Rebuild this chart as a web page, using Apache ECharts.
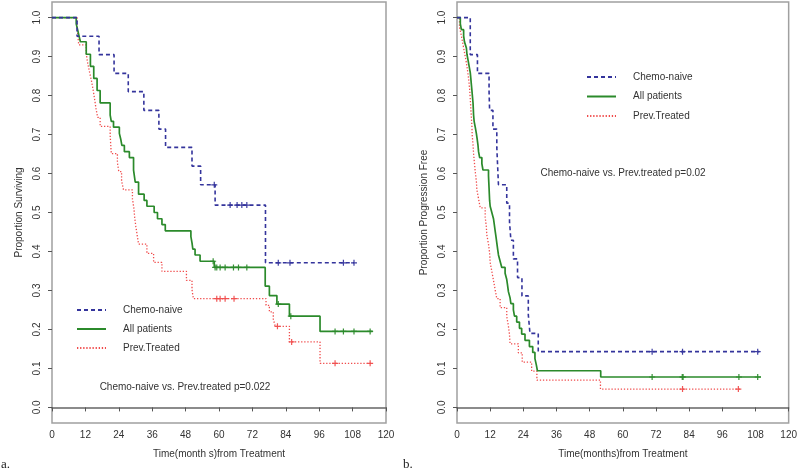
<!DOCTYPE html>
<html><head><meta charset="utf-8">
<script src="https://cdn.jsdelivr.net/npm/echarts@6/dist/echarts.min.js"></script>
<style>html,body{margin:0;padding:0;background:#fff}#c{width:800px;height:469px}</style>
</head><body><div id="c"></div>
<script>
// ---------- Data ----------
const seriesNames = ['Chemo-naive', 'All patients', 'Prev.Treated'];
const xTicks = [0, 12, 24, 36, 48, 60, 72, 84, 96, 108, 120];
const yTicks = [0, 0.1, 0.2, 0.3, 0.4, 0.5, 0.6, 0.7, 0.8, 0.9, 1.0];

// Panel a: overall survival
const osNaiveT = [0, 9.0, 16.9, 22.3, 27.4, 33.0, 38.4, 40.8, 50.3, 53.4, 58.6, 76.7, 108.5];
const osNaiveS = [1, 0.952, 0.905, 0.857, 0.810, 0.762, 0.714, 0.667, 0.619, 0.571, 0.519, 0.371, 0.371];
const osNaiveCens = [58.3, 64.0, 66.5, 68.2, 70.0, 81.3, 85.5, 104.7, 108.5];

const osAllT = [0, 8.7, 9.2, 9.7, 10.2, 12.3, 13.8, 15.0, 16.2, 17.3, 20.9, 21.3, 22.1, 24.2, 24.7, 25.1, 26.0, 27.8, 29.3, 29.9, 31.1, 33.1, 34.1, 36.7, 37.9, 39.5, 40.7, 49.9, 50.3, 50.6, 51.4, 53.2, 58.3, 76.6, 78.1, 80.8, 85.3, 96.3, 115.2];
const osAllS = [1, 0.984, 0.969, 0.953, 0.938, 0.906, 0.875, 0.844, 0.813, 0.781, 0.750, 0.734, 0.719, 0.703, 0.688, 0.672, 0.656, 0.641, 0.609, 0.578, 0.547, 0.531, 0.516, 0.500, 0.484, 0.469, 0.453, 0.438, 0.422, 0.406, 0.391, 0.375, 0.359, 0.311, 0.287, 0.265, 0.234, 0.195, 0.195];
const osAllCens = [57.9, 58.6, 59.2, 60.4, 62.2, 65.2, 67.0, 70.0, 81.3, 85.8, 101.7, 104.7, 108.5, 114.3];

const osPrevT = [0, 9.0, 9.3, 9.6, 12.3, 12.8, 13.5, 14.2, 14.8, 15.3, 15.8, 16.4, 17.3, 20.9, 21.1, 21.3, 23.5, 24.0, 25.0, 25.7, 28.9, 29.4, 29.7, 30.1, 30.6, 31.1, 34.1, 36.5, 39.5, 48.3, 50.3, 50.8, 76.9, 78.1, 79.5, 80.2, 85.3, 96.3, 114.9];
const osPrevS = [1, 0.977, 0.953, 0.930, 0.907, 0.884, 0.860, 0.837, 0.814, 0.791, 0.767, 0.744, 0.721, 0.698, 0.674, 0.651, 0.628, 0.605, 0.581, 0.558, 0.535, 0.512, 0.488, 0.465, 0.442, 0.419, 0.395, 0.372, 0.349, 0.326, 0.302, 0.279, 0.262, 0.245, 0.227, 0.208, 0.168, 0.113, 0.113];
const osPrevCens = [59.2, 60.4, 62.2, 65.4, 81.0, 86.1, 101.7, 114.3];

// Panel b: progression-free survival
const pfsNaiveT = [0, 4.8, 7.4, 11.6, 11.8, 13.0, 14.4, 14.7, 15.0, 18.0, 19.0, 19.5, 20.4, 21.9, 23.5, 25.8, 26.4, 29.4, 109.4];
const pfsNaiveS = [1, 0.905, 0.857, 0.810, 0.762, 0.714, 0.667, 0.619, 0.571, 0.524, 0.476, 0.429, 0.381, 0.333, 0.286, 0.238, 0.190, 0.143, 0.143];
const pfsNaiveCens = [70.6, 81.6, 108.8];

const pfsAllT = [0, 1.2, 1.6, 2.4, 2.7, 3.4, 3.6, 4.0, 4.4, 4.8, 5.0, 5.2, 5.4, 5.6, 5.8, 5.9, 6.0, 6.2, 6.6, 7.0, 7.3, 7.6, 7.8, 8.2, 9.0, 9.4, 11.4, 11.5, 11.6, 11.7, 11.8, 12.0, 12.6, 13.2, 13.5, 13.8, 14.1, 14.4, 14.7, 15.0, 15.6, 16.2, 17.4, 18.0, 18.3, 18.6, 19.2, 19.5, 20.4, 20.8, 21.6, 22.6, 23.4, 24.6, 26.2, 27.4, 28.2, 28.7, 29.1, 52.0, 110.0];
const pfsAllS = [1, 0.984, 0.969, 0.953, 0.938, 0.922, 0.906, 0.891, 0.875, 0.859, 0.844, 0.828, 0.813, 0.797, 0.781, 0.766, 0.750, 0.734, 0.719, 0.703, 0.688, 0.672, 0.656, 0.641, 0.625, 0.609, 0.594, 0.578, 0.563, 0.547, 0.531, 0.516, 0.500, 0.484, 0.469, 0.453, 0.438, 0.422, 0.406, 0.391, 0.375, 0.359, 0.344, 0.328, 0.313, 0.297, 0.281, 0.266, 0.250, 0.234, 0.219, 0.203, 0.188, 0.172, 0.156, 0.141, 0.125, 0.109, 0.094, 0.078, 0.078];
const pfsAllCens = [70.6, 81.5, 81.8, 102.0, 108.8];

const pfsPrevT = [0, 0.9, 1.6, 2.2, 2.8, 3.4, 3.9, 4.3, 4.6, 4.8, 5.0, 5.2, 5.4, 5.5, 5.8, 6.0, 6.3, 6.6, 7.0, 7.2, 7.8, 8.4, 10.2, 10.6, 10.8, 11.4, 11.8, 12.0, 12.6, 13.2, 13.8, 14.4, 15.6, 18.0, 18.6, 19.0, 19.2, 22.2, 23.6, 27.0, 28.9, 51.9, 102.4];
const pfsPrevS = [1, 0.977, 0.953, 0.930, 0.907, 0.884, 0.860, 0.837, 0.814, 0.791, 0.767, 0.744, 0.721, 0.698, 0.674, 0.651, 0.628, 0.605, 0.581, 0.558, 0.535, 0.512, 0.488, 0.465, 0.442, 0.419, 0.395, 0.372, 0.349, 0.326, 0.302, 0.279, 0.256, 0.233, 0.209, 0.186, 0.163, 0.140, 0.116, 0.093, 0.070, 0.047, 0.047];
const pfsPrevCens = [81.6, 101.8];

const xTitles = ['Time(month s)from Treatment', 'Time(months)from Treatment'];
const yTitles = ['Proportion Surviving', 'Proportion Progression Free'];
const pTexts = ['Chemo-naive vs. Prev.treated p=0.022', 'Chemo-naive vs. Prev.treated p=0.02'];
const panelLetters = ['a.', 'b.'];

// ---------- Styles ----------
const COLORS = ['#34349c', '#2b8a2b', '#f04c4c'];
const LINE_STYLES = [
  { width: 1.6, type: [4, 3] },
  { width: 1.7, type: 'solid' },
  { width: 1.3, type: [1.3, 1.8] }
];
const FONT = "'Liberation Sans', Arial, sans-serif";
const PLUS = 'path://M4,0H6V4H10V6H6V10H4V6H0V4H4Z';

function levelAt(T, S, t) {
  let v = S[0];
  for (let i = 0; i < T.length; i++) if (T[i] <= t) v = S[i];
  return v;
}

const panels = [
  [[osNaiveT, osNaiveS, osNaiveCens], [osAllT, osAllS, osAllCens], [osPrevT, osPrevS, osPrevCens]],
  [[pfsNaiveT, pfsNaiveS, pfsNaiveCens], [pfsAllT, pfsAllS, pfsAllCens], [pfsPrevT, pfsPrevS, pfsPrevCens]]
];

const grids = [
  { left: 52, top: 2, width: 334, height: 421 },
  { left: 457, top: 2, width: 332, height: 421 }
];

const series = [];
panels.forEach((curves, g) => {
  curves.forEach((c, k) => {
    const [T, S, C] = c;
    series.push({
      type: 'line', name: seriesNames[k], xAxisIndex: g, yAxisIndex: g,
      step: 'end', symbol: 'none', silent: true, z: 3 - k + 2,
      data: T.map((t, i) => [t, S[i]]),
      lineStyle: Object.assign({ color: COLORS[k] }, LINE_STYLES[k]),
      itemStyle: { color: COLORS[k] }
    });
    series.push({
      type: 'scatter', name: seriesNames[k] + ' censored', xAxisIndex: g, yAxisIndex: g,
      symbol: PLUS, symbolSize: 6, silent: true, z: 6,
      data: C.map(t => [t, levelAt(T, S, t)]),
      itemStyle: { color: COLORS[k], opacity: 0.95 }
    });
  });
});

const xAxes = grids.map((gr, g) => ({
  type: 'value', gridIndex: g, min: 0, max: 120, interval: 12,
  name: xTitles[g], nameLocation: 'middle', nameGap: 26,
  nameTextStyle: { fontFamily: FONT, fontSize: 10, color: '#333' },
  axisLine: { show: true, lineStyle: { color: '#666', width: 1.5 } },
  axisTick: { show: true, inside: false, length: 4, lineStyle: { color: '#555' } },
  axisLabel: { margin: 7, fontFamily: FONT, fontSize: 10, color: '#333', formatter: v => String(v) },
  splitLine: { show: false }
}));

const yAxes = grids.map((gr, g) => ({
  type: 'value', gridIndex: g, min: -0.04, max: 1.04,
  name: yTitles[g], nameLocation: 'middle', nameGap: 28,
  nameTextStyle: { fontFamily: FONT, fontSize: 10, color: '#333' },
  axisLine: { show: false },
  axisTick: { show: true, inside: false, length: 4, customValues: yTicks, lineStyle: { color: '#555' } },
  axisLabel: { margin: 10, rotate: 90, fontFamily: FONT, fontSize: 10, color: '#333',
    customValues: yTicks, formatter: v => Number(v).toFixed(1) },
  splitLine: { show: false }
}));

const legendBase = {
  orient: 'vertical', data: seriesNames, itemWidth: 29, itemHeight: 12, itemGap: 9,
  selectedMode: false,
  itemStyle: { opacity: 0 },
  textStyle: { fontFamily: FONT, fontSize: 10, color: '#333', padding: [0, 0, 0, 12] }
};

const chart = echarts.init(document.getElementById('c'), null, { renderer: 'canvas' });
chart.setOption({
  animation: false,
  backgroundColor: '#fff',
  textStyle: { fontFamily: FONT },
  grid: grids.map(gr => Object.assign({ show: true, borderColor: '#a0a0a0', borderWidth: 1.5, backgroundColor: 'transparent' }, gr)),
  xAxis: xAxes,
  yAxis: yAxes,
  legend: [
    Object.assign({}, legendBase, { left: 71, top: 300 }),
    Object.assign({}, legendBase, { left: 581, top: 67, itemGap: 9.5 })
  ],
  series: series,
  graphic: [
    { type: 'text', x: 185, y: 387, style: { text: pTexts[0], font: '10px ' + FONT, fill: '#333', align: 'center', verticalAlign: 'middle' } },
    { type: 'text', x: 623, y: 173, style: { text: pTexts[1], font: '10px ' + FONT, fill: '#333', align: 'center', verticalAlign: 'middle' } },
    { type: 'text', x: 1, y: 465, style: { text: panelLetters[0], font: "13px 'Liberation Serif', serif", fill: '#222', align: 'left', verticalAlign: 'middle' } },
    { type: 'text', x: 403, y: 465, style: { text: panelLetters[1], font: "13px 'Liberation Serif', serif", fill: '#222', align: 'left', verticalAlign: 'middle' } }
  ]
});
</script></body></html>
